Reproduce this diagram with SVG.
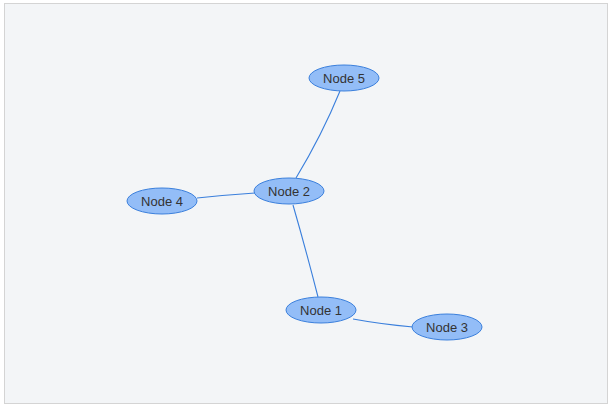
<svg xmlns="http://www.w3.org/2000/svg" width="612" height="410" viewBox="0 0 612 410">
<style>
.node ellipse{fill:#93bdf7;stroke:#3a7fdc;stroke-width:1}
.node text{font-family:"Liberation Sans",Arial,sans-serif;font-size:13px;fill:#333;text-anchor:middle;dominant-baseline:central}
.edges path{fill:none;stroke:#3a7fdc;stroke-width:1.1}
</style>
<rect x="0" y="0" width="612" height="410" fill="#ffffff"/>
<rect x="4.5" y="3.5" width="603" height="400" fill="#f3f5f7" stroke="#d4d4d4"/>
<g class="edges">
<path d="M296,178 Q322,135 340,91"/>
<path d="M255,193 Q225,195 197,198"/>
<path d="M293,205 Q306,250 318,297"/>
<path d="M353,319 Q380,324 413,327"/>
</g>
<g id="node5" class="node"><ellipse cx="344" cy="78" rx="35" ry="13"/><text x="344" y="78">Node 5</text></g>
<g id="node2" class="node"><ellipse cx="289" cy="191" rx="35" ry="13"/><text x="289" y="191">Node 2</text></g>
<g id="node4" class="node"><ellipse cx="162" cy="201" rx="35" ry="13"/><text x="162" y="201">Node 4</text></g>
<g id="node1" class="node"><ellipse cx="321" cy="310" rx="35" ry="13"/><text x="321" y="310">Node 1</text></g>
<g id="node3" class="node"><ellipse cx="447" cy="327" rx="35" ry="13"/><text x="447" y="327">Node 3</text></g>
</svg>
